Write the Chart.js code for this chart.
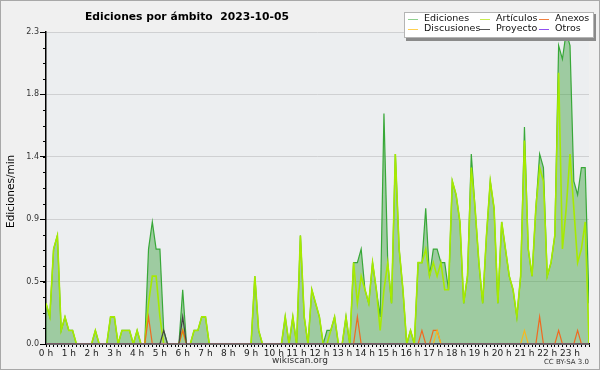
<!DOCTYPE html>
<html><head><meta charset="utf-8">
<script src="https://cdn.jsdelivr.net/npm/chart.js@4/dist/chart.umd.min.js"></script>
<style>html,body{margin:0;padding:0;background:#f0f0f0;}canvas{display:block;}</style>
</head><body>
<canvas id="c" width="600" height="370"></canvas>
<script>
// 10-minute slots, 144 per day (edits per minute)
const ediciones = [
0.3,0.2,0.7,0.8,0.1,0.2,0.1,0.1,0,0,0,0,
0,0.1,0,0,0,0.2,0.2,0,0.1,0.1,0.1,0,
0.1,0,0,0.7,0.9,0.7,0.7,0.1,0,0,0,0,
0.4,0,0,0.1,0.1,0.2,0.2,0,0,0,0,0,
0,0,0,0,0,0,0,0.5,0.1,0,0,0,
0,0,0,0.2,0,0.2,0,0.8,0.2,0,0.4,0.3,
0.2,0,0.1,0.1,0.2,0,0,0.2,0,0.6,0.6,0.7,
0.4,0.3,0.6,0.4,0.2,1.7,0.6,0.3,1.4,0.7,0.4,0,
0.1,0,0.6,0.6,1.0,0.5,0.7,0.7,0.6,0.6,0.4,1.2,
1.1,0.9,0.3,0.5,1.4,1.0,0.6,0.3,0.8,1.2,1.0,0.3,
0.9,0.7,0.5,0.4,0.2,0.5,1.6,0.7,0.5,1.0,1.4,1.3,
0.5,0.6,0.8,2.2,2.1,2.3,2.2,1.2,1.1,1.3,1.3,0.3];
const articulos = [
0.3,0.2,0.7,0.8,0.1,0.2,0.1,0.1,0,0,0,0,
0,0.1,0,0,0,0.2,0.2,0,0.1,0.1,0.1,0,
0.1,0,0,0.3,0.5,0.5,0.2,0,0,0,0,0,
0.1,0,0,0.1,0.1,0.2,0.2,0,0,0,0,0,
0,0,0,0,0,0,0,0.5,0.1,0,0,0,
0,0,0,0.2,0,0.2,0,0.8,0.2,0,0.4,0.3,
0.2,0,0,0.1,0.2,0,0,0.2,0,0.6,0.3,0.5,
0.4,0.3,0.6,0.4,0.1,0.4,0.6,0.3,1.4,0.7,0.4,0,
0.1,0,0.6,0.6,0.7,0.5,0.6,0.5,0.6,0.4,0.4,1.2,
1.1,0.9,0.3,0.5,1.3,1.0,0.6,0.3,0.8,1.2,1.0,0.3,
0.9,0.7,0.5,0.4,0.2,0.5,1.5,0.7,0.5,1.0,1.3,1.2,
0.5,0.6,0.8,2.0,0.7,1.0,1.4,1.0,0.6,0.7,0.9,0];
const anexos = [
0,0,0,0,0,0,0,0,0,0,0,0,
0,0,0,0,0,0,0,0,0,0,0,0,
0,0,0,0.2,0,0,0,0,0,0,0,0,
0.1,0,0,0,0,0,0,0,0,0,0,0,
0,0,0,0,0,0,0,0,0,0,0,0,
0,0,0,0,0,0,0,0,0,0,0,0,
0,0,0,0,0,0,0,0,0,0,0.2,0,
0,0,0,0,0,0,0,0,0,0,0,0,
0,0,0,0.1,0,0,0.1,0.1,0,0,0,0,
0,0,0,0,0,0,0,0,0,0,0,0,
0,0,0,0,0,0,0,0,0,0,0.2,0,
0,0,0,0.1,0,0,0,0,0.1,0,0,0];
const discusiones = [
0,0,0,0,0,0,0,0,0,0,0,0,
0,0,0,0,0,0,0,0,0,0,0,0,
0,0,0,0,0,0,0,0,0,0,0,0,
0,0,0,0,0,0,0,0,0,0,0,0,
0,0,0,0,0,0,0,0,0,0,0,0,
0,0,0,0,0,0,0,0,0,0,0,0,
0,0,0,0,0,0,0,0,0,0,0,0,
0,0,0,0,0,0,0,0,0,0,0,0,
0,0,0,0,0,0,0,0.1,0,0,0,0,
0,0,0,0,0,0,0,0,0,0,0,0,
0,0,0,0,0,0,0.1,0,0,0,0,0,
0,0,0,0,0,0,0,0,0,0,0,0];
const proyecto = [
0,0,0,0,0,0,0,0,0,0,0,0,
0,0,0,0,0,0,0,0,0,0,0,0,
0,0,0,0,0,0,0,0.1,0,0,0,0,
0.2,0,0,0,0,0,0,0,0,0,0,0,
0,0,0,0,0,0,0,0,0,0,0,0,
0,0,0,0,0,0,0,0,0,0,0,0,
0,0,0,0,0,0,0,0,0,0,0,0,
0,0,0,0,0,0,0,0,0,0,0,0,
0,0,0,0,0,0,0,0,0,0,0,0,
0,0,0,0,0,0,0,0,0,0,0,0,
0,0,0,0,0,0,0,0,0,0,0,0,
0,0,0,0,0,0,0,0,0,0,0,0];
const otros = [
0,0,0,0,0,0,0,0,0,0,0,0,
0,0,0,0,0,0,0,0,0,0,0,0,
0,0,0,0,0,0,0,0,0,0,0,0,
0,0,0,0,0,0,0,0,0,0,0,0,
0,0,0,0,0,0,0,0,0,0,0,0,
0,0,0,0,0,0,0,0,0,0,0,0,
0,0,0,0,0,0,0,0,0,0,0,0,
0,0,0,0,0,0,0,0,0,0,0,0,
0,0,0,0,0,0,0,0,0,0,0,0,
0,0,0,0,0,0,0,0,0,0,0,0,
0,0,0,0,0,0,0,0,0,0,0,0,
0,0,0,0,0,0,0,0,0,0,0,0];
const hourLabels = ['0 h','1 h','2 h','3 h','4 h','5 h','6 h','7 h','8 h','9 h','10 h','11 h',
  '12 h','13 h','14 h','15 h','16 h','17 h','18 h','19 h','20 h','21 h','22 h','23 h'];
const yTickValues = [0, 0.46, 0.92, 1.38, 1.84, 2.3];
const yTickLabels = ['0.0','0.5','0.9','1.4','1.8','2.3'];
const titleText = 'Ediciones por ámbito  2023-10-05';
const yTitle = 'Ediciones/min';

const pts = a => a.map((v,i)=>({x:i,y:v}));
const FONT = '"DejaVu Sans", sans-serif';

const legendItems = [
  ['Ediciones', '#8fd08f', 424, 19], ['Artículos', '#c8ec50', 496, 19], ['Anexos', '#f08040', 555, 19],
  ['Discusiones', '#ffd050', 424, 29], ['Proyecto', '#555555', 496, 29], ['Otros', '#9050f0', 555, 29]
];

function fitText(ctx, text, weight, size, width){
  let s = size;
  ctx.font = weight + ' ' + s + 'px ' + FONT;
  while (ctx.measureText(text).width > width && s > 5){ s -= 0.25; ctx.font = weight + ' ' + s + 'px ' + FONT; }
}

const deco = {
  id: 'deco',
  beforeDraw(chart){
    const c = chart.ctx, a = chart.chartArea;
    c.save();
    c.fillStyle = '#f0f0f0'; c.fillRect(0,0,600,370);
    c.fillStyle = '#eceef0'; c.fillRect(a.left, a.top, a.right-a.left, a.bottom-a.top);
    c.restore();
  },
  afterDraw(chart){
    const c = chart.ctx, a = chart.chartArea, ys = chart.scales.y;
    c.save();
    // minor y ticks
    c.strokeStyle = '#000'; c.lineWidth = 1;
    for (let k = 0; k <= 20; k++){
      const v = k * 0.115;
      const py = Math.round(ys.getPixelForValue(v)) + 0.5;
      c.beginPath(); c.moveTo(a.left-3, py); c.lineTo(a.left, py); c.stroke();
    }
    // title
    c.fillStyle = '#000'; c.textBaseline = 'alphabetic'; c.textAlign = 'left';
    fitText(c, titleText, 'bold', 12.5, 205);
    c.fillText(titleText, 85, 20);
    // y axis title
    c.save();
    c.translate(11, 228); c.rotate(-Math.PI/2);
    fitText(c, yTitle, 'normal', 10.5, 78);
    c.textAlign = 'left'; c.textBaseline = 'middle';
    c.fillText(yTitle, 0, 0);
    c.restore();
    // legend
    c.fillStyle = '#8a8a8a'; c.fillRect(406, 14, 190, 27);
    c.fillStyle = '#ffffff'; c.fillRect(404, 12, 190, 26);
    c.strokeStyle = '#b4b4b4'; c.lineWidth = 1; c.strokeRect(404.5, 12.5, 189, 25);
    c.textBaseline = 'middle'; c.textAlign = 'left';
    c.font = '9.5px ' + FONT;
    legendItems.forEach(([t,col,x,y]) => {
      c.strokeStyle = col; c.lineWidth = 1;
      c.beginPath(); c.moveTo(x-16, y+0.5); c.lineTo(x-6, y+0.5); c.stroke();
      c.fillStyle = '#111'; c.fillText(t, x, y);
    });
    // footer
    c.fillStyle = '#333'; c.textAlign = 'center'; c.textBaseline = 'middle';
    c.font = '9px ' + FONT;
    c.fillText('wikiscan.org', 300, 361);
    c.textAlign = 'right'; c.font = '7px ' + FONT;
    c.fillText('CC BY-SA 3.0', 589, 362);
    // outer frame
    c.strokeStyle = '#a8a8a8'; c.lineWidth = 1; c.strokeRect(0.5, 0.5, 599, 369);
    c.restore();
  }
};

new Chart(document.getElementById('c'), {
  type: 'line',
  data: {
    datasets: [
      {label:'Proyecto', data: pts(proyecto), borderColor:'#444444', borderWidth:1.2, order:1},
      {label:'Otros', data: pts(otros), borderColor:'#9050f0', borderWidth:1, order:2},
      {label:'Discusiones', data: pts(discusiones), borderColor:'#f5b820', borderWidth:1.2, order:3},
      {label:'Anexos', data: pts(anexos), borderColor:'#f06a20', borderWidth:1.2, order:4},
      {label:'Artículos', data: pts(articulos), borderColor:'#a6ea00', borderWidth:1.6, order:5},
      {label:'Ediciones', data: pts(ediciones), borderColor:'#38a838', borderWidth:1.2,
        fill:'origin', backgroundColor:'rgba(60,160,60,0.44)', order:6}
    ]
  },
  options: {
    responsive:false, animation:false, devicePixelRatio:1,
    layout:{padding:{left:0, right:11, top:32, bottom:0}},
    elements:{point:{radius:0}, line:{tension:0}},
    plugins:{legend:{display:false}, title:{display:false}, tooltip:{enabled:false}},
    scales:{
      x:{type:'linear', min:0, max:143, z:1,
        afterFit(s){ s.height = 26; },
        grid:{drawOnChartArea:false, tickLength:3, tickColor:'#000', drawTicks:true},
        border:{color:'#000', width:1.5},
        ticks:{stepSize:1, autoSkip:false, maxRotation:0, minRotation:0, padding:1,
          color:'#222', font:{family:FONT, size:9},
          callback:(v)=> (v%6===0 ? hourLabels[v/6] : '')}
      },
      y:{min:0, max:2.3,
        afterFit(s){ s.width = 46; },
        afterBuildTicks(s){ s.ticks = yTickValues.map(v=>({value:v})); },
        grid:{color:'#cfd0d2', tickColor:'#000', tickLength:6},
        border:{color:'#000', width:1.5},
        ticks:{padding:1, color:'#333', font:{family:FONT, size:8},
          callback:(v)=> yTickLabels[yTickValues.indexOf(v)] }
      }
    }
  },
  plugins:[deco]
});
</script>
</body></html>
